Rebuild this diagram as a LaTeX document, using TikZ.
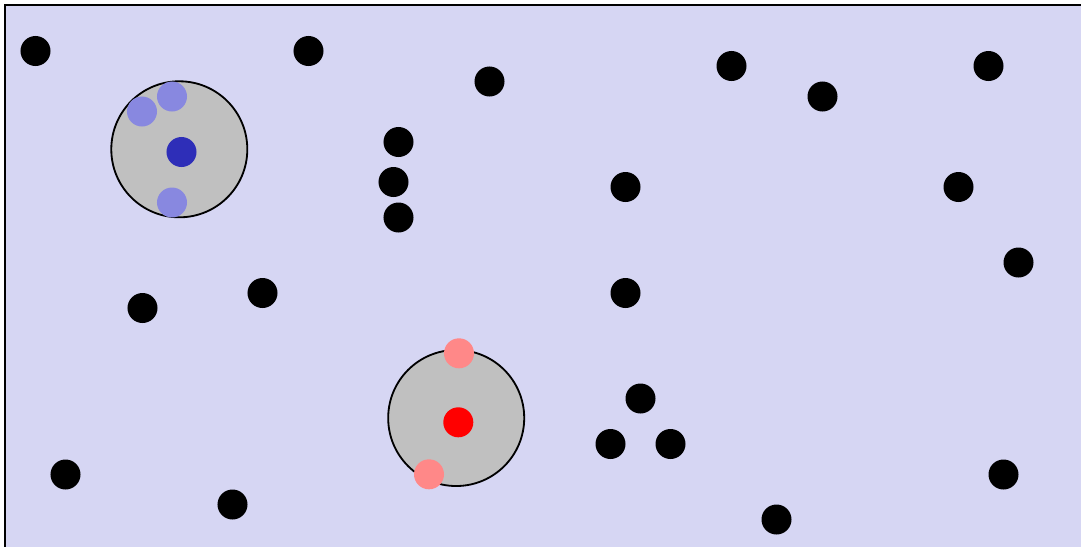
\documentclass[tikz,border=0pt]{standalone}
\usetikzlibrary{positioning}

\definecolor{field}{RGB}{214,214,243}
\definecolor{zone}{RGB}{192,192,192}
\definecolor{bluecore}{RGB}{46,46,184}
\definecolor{bluehalo}{RGB}{136,136,224}
\definecolor{redhalo}{RGB}{255,136,136}

\begin{document}
\begin{tikzpicture}[
            x=0.025cm, y=-0.025cm,
            % stili
            agent/.style={circle, inner sep=0pt, minimum size=0.75cm, fill=black},
            zonecircle/.style={circle, inner sep=0pt, minimum size=3.4cm, draw=black, line width=1.3pt, fill=zone}
        ]

        \clip (0,0) rectangle (1081,547);

        % campo
        \draw[line width=1.4pt, fill=field] (5,5) rectangle (1100,570);

        % agenti neri
        \foreach \px/\py [count=\i] in {35.5/51, 308.5/51, 489.5/81.5, 731.5/66, 822.5/96.5, 988.5/66,
                                        398.5/142, 393.5/182, 398.5/217.5, 625.5/187, 958.5/187, 1018.5/262.5,
                                        142.5/308, 262.5/293, 625.5/293,
                                        640.5/398.5, 610.5/444, 670.5/444,
                                        65.5/474.5, 232.5/504.5, 776.5/519.5, 1003.5/474.5}
            \node (a\i) [agent] at (\px,\py) {};

        % zona blu
        \node (zoneblue) [zonecircle] at (179.3,149.3) {};
        \node (blue0) [agent, fill=bluecore] at (181.5,152) {};
        \node (blue1) [agent, fill=bluehalo] at (142,111.5) {};
        \node (blue2) [agent, fill=bluehalo] at (172,96.5) {};
        \node (blue3) [agent, fill=bluehalo] at (172,202.5) {};

        % zona rossa
        \node (zonered) [zonecircle] at (456.2,418) {};
        \node (red0) [agent, fill=red] at (458.3,422.3) {};
        \node (red1) [agent, fill=redhalo] at (459,353.3) {};
        \node (red2) [agent, fill=redhalo] at (429,474.3) {};

    \end{tikzpicture}
\end{document}
